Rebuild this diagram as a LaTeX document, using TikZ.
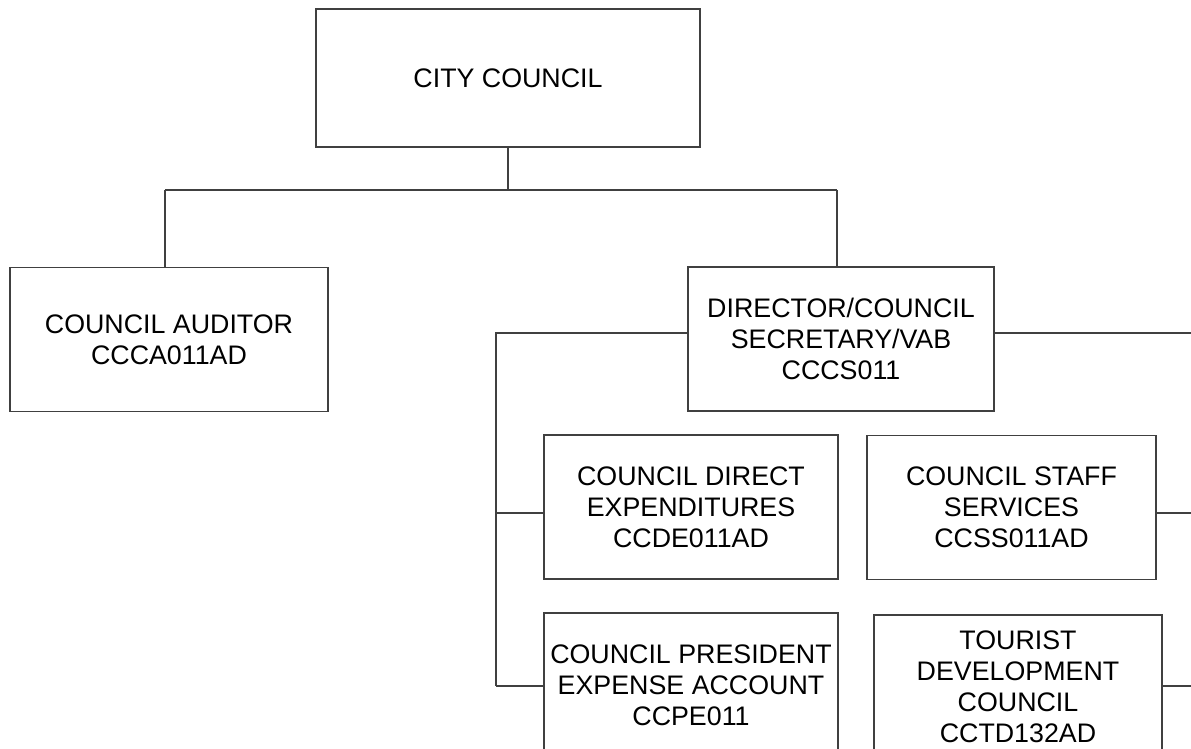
\documentclass[tikz,border=0pt]{standalone}
\usepackage{fontspec}
\setmainfont{Liberation Sans}
\tikzset{
    unit/.style={rectangle,draw=black!75,line width=1.2pt,align=center,inner sep=0pt,
        minimum height=144pt,font=\fontsize{26.8}{31}\selectfont},
    edge/.style={-,draw=black!75,line width=1.2pt},
}

\begin{document}
\begin{tikzpicture}[x=1pt,y=-1pt]
    \clip (0,0) rectangle (1191,749);
    \node[unit,minimum width=384pt,minimum height=138pt] (city) at (508,78) {CITY COUNCIL};
    \node[unit,minimum width=318pt] (audit) at (169,339.5) {COUNCIL AUDITOR\\CCCA011AD};
    \node[unit,minimum width=306pt] (dir) at (841,339) {DIRECTOR/COUNCIL\\SECRETARY/VAB\\CCCS011};
    \node[unit,minimum width=294pt] (cde) at (691,507) {COUNCIL DIRECT\\EXPENDITURES\\CCDE011AD};
    \node[unit,minimum width=289pt] (css) at (1011.5,507.5) {COUNCIL STAFF\\SERVICES\\CCSS011AD};
    \node[unit,minimum width=294pt] (cpe) at (691,685) {COUNCIL PRESIDENT\\EXPENSE ACCOUNT\\CCPE011};
    \node[unit,minimum width=288pt] (ctd) at (1018,687) {TOURIST\\DEVELOPMENT\\COUNCIL\\CCTD132AD};
    \coordinate (bus) at (508,190);
    \coordinate (busl) at (165,190);
    \coordinate (busr) at (837,190);
    \coordinate (left) at (496,333);
    \coordinate (right) at (1191,333);
    \coordinate (row1) at (496,513);
    \coordinate (row2) at (496,686);
    \draw[edge] (city.south) -- (bus);
    \draw[edge] (busl) -- (busr);
    \draw[edge] (busl) -- (busl |- audit.north);
    \draw[edge] (busr) -- (busr |- dir.north);
    \draw[edge] (dir.west |- left) -- (left) -- (row2);
    \draw[edge] (row1) -- (row1 -| cde.west);
    \draw[edge] (row2) -- (row2 -| cpe.west);
    \draw[edge] (dir.east |- right) -- (right);
    \draw[edge] (css.east |- row1) -- (right |- row1);
    \draw[edge] (ctd.east |- row2) -- (right |- row2);
\end{tikzpicture}
\end{document}
